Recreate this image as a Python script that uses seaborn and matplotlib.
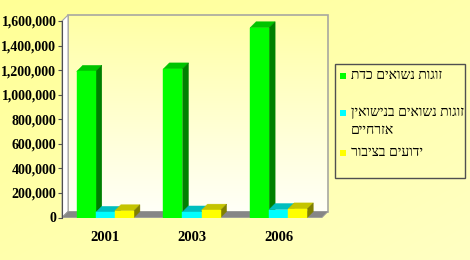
import numpy as np
import pandas as pd
import matplotlib
matplotlib.use("Agg")
import matplotlib.pyplot as plt
import seaborn as sns
from matplotlib.patches import Polygon, Rectangle
from matplotlib.ticker import FuncFormatter

# ---------------- data ----------------
years = ["2001", "2003", "2006"]
religious = [1190000, 1210000, 1545000]
civil = [42000, 45000, 65000]
common_law = [55000, 60000, 70000]
series_names = ["זוגות נשואים כדת", "זוגות נשואים בנישואין\nאזרחיים", "ידועים בציבור"]
y_ticks = [0, 200000, 400000, 600000, 800000, 1000000, 1200000, 1400000, 1600000]

front_colors = ["#00FF00", "#00FFFF", "#FFFF00"]
top_colors = ["#00C400", "#00BEBE", "#C4C400"]
side_colors = ["#008000", "#008080", "#808000"]

rows = []
for i, yr in enumerate(years):
    for name, vals in zip(series_names, [religious, civil, common_law]):
        rows.append({"year": yr, "series": name, "value": vals[i]})
df = pd.DataFrame(rows)

sns.set_theme(style="white")
plt.rcParams["font.family"] = ["Liberation Serif", "DejaVu Sans"]

W, H = 470, 260
fig = plt.figure(figsize=(W / 100, H / 100), dpi=100)

# figure background gradient
bg = fig.add_axes([0, 0, 1, 1], zorder=-10)
gx, gy = np.meshgrid(np.linspace(0, 1, 200), np.linspace(0, 1, 200))
t = (gx + gy) / 2
img = np.zeros((200, 200, 3))
img[..., 0] = 1.0
img[..., 1] = 1.0
img[..., 2] = (150 + 45 * t) / 255
bg.imshow(img, aspect="auto", extent=[0, 1, 0, 1], origin="upper")
bg.axis("off")

# main axes (front plane)
x_left, x_w = 62, 260
y_bot, y_h = 217.5, 196.5
ax = fig.add_axes([x_left / W, (H - y_bot) / H, x_w / W, y_h / H])
ax.patch.set_alpha(0)

sns.barplot(data=df, x="year", y="value", hue="series", order=years,
            hue_order=series_names, palette=front_colors, width=0.66,
            saturation=1, errorbar=None, legend=False, linewidth=0, ax=ax)

xmin, xmax = -0.5, 2.5
ymax = y_ticks[-1]
ax.set_xlim(xmin, xmax)
ax.set_ylim(0, ymax)
ax.set_autoscale_on(False)

depth_px = 6
dx = depth_px * (xmax - xmin) / x_w
dy = depth_px * ymax / y_h

# back wall gradient
wall = np.zeros((100, 2, 3))
tt = np.linspace(0, 1, 100)[:, None]
wall[..., 0] = 1.0
wall[..., 1] = 1.0
wall[..., 2] = (165 + 82 * tt) / 255
im = ax.imshow(wall, aspect="auto", extent=[xmin + dx, xmax + dx, dy, ymax + dy],
               origin="upper", zorder=0.2)
im.set_clip_on(False)
ax.add_patch(Rectangle((xmin + dx, dy), xmax - xmin, ymax, fill=False,
                       edgecolor="#A8A8A0", lw=1.2, zorder=0.3, clip_on=False))
# left wall
ax.add_patch(Polygon([(xmin, 0), (xmin + dx, dy), (xmin + dx, ymax + dy), (xmin, ymax)],
                     closed=True, facecolor="#FFFFFF", edgecolor="#A8A8A8", lw=0.8,
                     zorder=0.4, clip_on=False))
# floor
ax.add_patch(Polygon([(xmin, 0), (xmax, 0), (xmax + dx, dy), (xmin + dx, dy)],
                     closed=True, facecolor="#868686", edgecolor="#9A9A9A", lw=0.6,
                     zorder=0.5, clip_on=False))
ax.set_xlim(xmin, xmax)
ax.set_ylim(0, ymax)

# 3D faces
for k, cont in enumerate(ax.containers):
    for p in cont.patches:
        x0, w, h = p.get_x(), p.get_width(), p.get_height()
        z = 3 + k
        p.set_zorder(z + 0.5)
        p.set_edgecolor(front_colors[k])
        p.set_linewidth(0.3)
        ax.add_patch(Polygon([(x0, h), (x0 + w, h), (x0 + w + dx, h + dy), (x0 + dx, h + dy)],
                             closed=True, facecolor=top_colors[k], edgecolor=top_colors[k],
                             lw=0.3, zorder=z, clip_on=False))
        ax.add_patch(Polygon([(x0 + w, 0), (x0 + w + dx, dy), (x0 + w + dx, h + dy), (x0 + w, h)],
                             closed=True, facecolor=side_colors[k], edgecolor=side_colors[k],
                             lw=0.3, zorder=z, clip_on=False))

# axes styling
for s in ["top", "right", "bottom"]:
    ax.spines[s].set_visible(False)
ax.spines["left"].set_color("#505050")
ax.spines["left"].set_linewidth(0.8)
ax.spines["left"].set_zorder(10)
ax.set_yticks(y_ticks)
ax.yaxis.set_major_formatter(FuncFormatter(lambda v, pos: f"{int(v):,}"))
ax.tick_params(axis="y", length=3, width=0.8, color="#505050", pad=1,
               labelsize=10, labelcolor="black", left=True)
ax.tick_params(axis="x", length=0, pad=10, labelsize=10.5, labelcolor="black")
for lab in ax.get_yticklabels() + ax.get_xticklabels():
    lab.set_fontweight("bold")
ax.set_xlabel("")
ax.set_ylabel("")
ax.grid(False)

# legend (right side)
fig.add_artist(Rectangle((335 / W, 1 - 178 / H), 130 / W, 114 / H, transform=fig.transFigure,
                         fill=False, edgecolor="#505050", lw=1.0))
key_y = [75.7, 113.0, 152.7]
for name, col, ky in zip(series_names, front_colors, key_y):
    fig.add_artist(Rectangle((340 / W, 1 - (ky + 3) / H), 6 / W, 6 / H,
                             transform=fig.transFigure, facecolor=col, edgecolor="none"))
    visual = "\n".join(line[::-1] for line in name.split("\n"))
    fig.text(351 / W, 1 - (ky - 7) / H, visual, ha="left", va="top", fontsize=10,
             linespacing=1.5, color="black")

fig.savefig("out.png", dpi=100, facecolor=fig.get_facecolor())
